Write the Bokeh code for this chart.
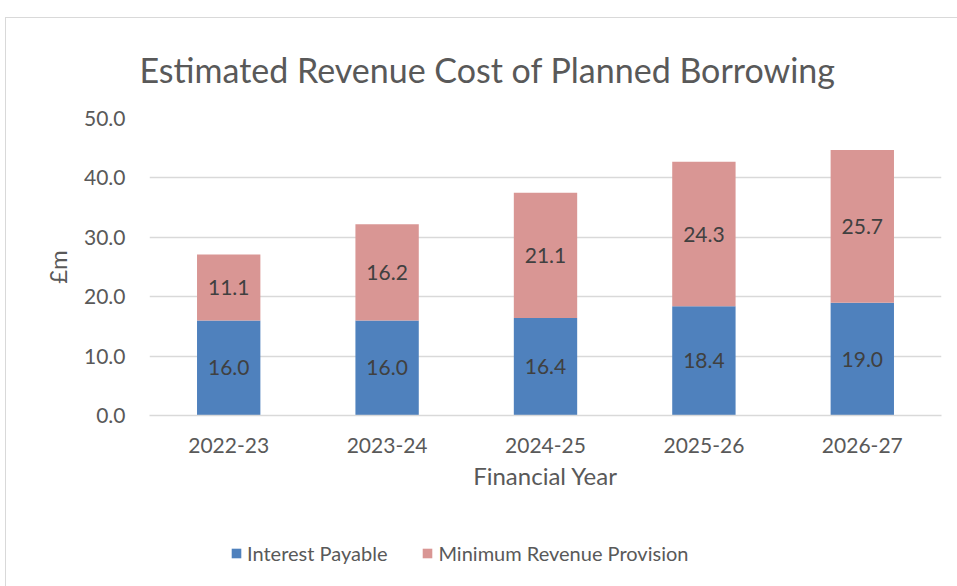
from bokeh.plotting import figure
from bokeh.layouts import column
from bokeh.models import ColumnDataSource, Legend, LegendItem, FixedTicker, NumeralTickFormatter, Title
from bokeh.core.properties import value
from bokeh.embed import file_html
from bokeh.resources import INLINE

years = ["2022-23", "2023-24", "2024-25", "2025-26", "2026-27"]
interest = [16.0, 16.0, 16.4, 18.4, 19.0]
mrp = [11.1, 16.2, 21.1, 24.3, 25.7]
series_names = ["Interest Payable", "Minimum Revenue Provision"]
y_ticks = [0, 10, 20, 30, 40, 50]

FONT = "Lato"
TXT = "#595959"
BLUE = "#4f81bd"
PINK = "#d99694"
GRID = "#d9d9d9"

source = ColumnDataSource(dict(
    years=years,
    interest=interest,
    mrp=mrp,
    interest_mid=[v / 2 for v in interest],
    mrp_mid=[a + b / 2 for a, b in zip(interest, mrp)],
    interest_lbl=[f"{v:.1f}" for v in interest],
    mrp_lbl=[f"{v:.1f}" for v in mrp],
))

p = figure(x_range=years, y_range=(0, 50), width=952, height=497,
           output_backend="svg", toolbar_location=None,
           min_border_left=143, min_border_right=17, min_border_top=99,
           min_border_bottom=100)

p.title = Title(text="Estimated Revenue Cost of Planned Borrowing", align="left",
                offset=-10, text_font=FONT, text_font_size="34px",
                text_font_style="normal", text_color=TXT, standoff=57)

renderers = p.vbar_stack(["interest", "mrp"], x="years", width=0.4, source=source,
                         color=[BLUE, PINK], line_color=None)

p.text(x="years", y="interest_mid", text="interest_lbl", source=source,
       text_align="center", text_baseline="middle", text_font=value(FONT),
       text_font_size="21px", text_color="#404040")
p.text(x="years", y="mrp_mid", text="mrp_lbl", source=source,
       text_align="center", text_baseline="middle", text_font=value(FONT),
       text_font_size="21px", text_color="#404040")

p.outline_line_color = None
p.xgrid.grid_line_color = None
p.ygrid.grid_line_color = GRID
p.ygrid.grid_line_width = 1.5
p.ygrid.ticker = FixedTicker(ticks=y_ticks)

p.yaxis.ticker = FixedTicker(ticks=y_ticks)
p.yaxis.formatter = NumeralTickFormatter(format="0.0")
p.yaxis.axis_line_color = None
p.yaxis.major_tick_line_color = None
p.yaxis.minor_tick_line_color = None
p.yaxis.major_label_standoff = 18
p.yaxis.axis_label = "£m"
p.yaxis.axis_label_standoff = 9

p.xaxis.axis_line_color = GRID
p.xaxis.axis_line_width = 1.5
p.xaxis.major_tick_line_color = None
p.xaxis.minor_tick_line_color = None
p.xaxis.major_label_standoff = 16
p.xaxis.axis_label = "Financial Year"
p.xaxis.axis_label_standoff = 5

for ax in (p.xaxis[0], p.yaxis[0]):
    ax.major_label_text_font = FONT
    ax.major_label_text_font_size = "21px"
    ax.major_label_text_color = TXT
    ax.axis_label_text_font = FONT
    ax.axis_label_text_font_size = "24px"
    ax.axis_label_text_font_style = "normal"
    ax.axis_label_text_color = TXT

# legend strip: same stacked series, drawn outside its visible range, used only for the legend
leg = figure(x_range=years, y_range=(100, 200), width=952, height=72,
             output_backend="svg", toolbar_location=None,
             min_border=0)
leg.axis.visible = False
leg.grid.visible = False
leg.outline_line_color = None
leg_renderers = leg.vbar_stack(["interest", "mrp"], x="years", width=0.4, source=source,
                               color=[BLUE, PINK], line_color=None)

legend = Legend(items=[LegendItem(label=n, renderers=[r]) for n, r in zip(series_names, leg_renderers)],
                orientation="horizontal", location=(81, 22),
                label_text_font=FONT, label_text_font_size="20px", label_text_color=TXT,
                glyph_width=12, glyph_height=12, label_standoff=5, spacing=34,
                border_line_color=None, background_fill_alpha=0, margin=0, padding=0)
leg.add_layout(legend, "center")

layout = column(p, leg, spacing=0, margin=(17, 0, 0, 5),
                styles={"border-left": "1px solid #d9d9d9", "border-top": "1px solid #d9d9d9"})

open("out.html", "w").write(file_html(layout, INLINE))
